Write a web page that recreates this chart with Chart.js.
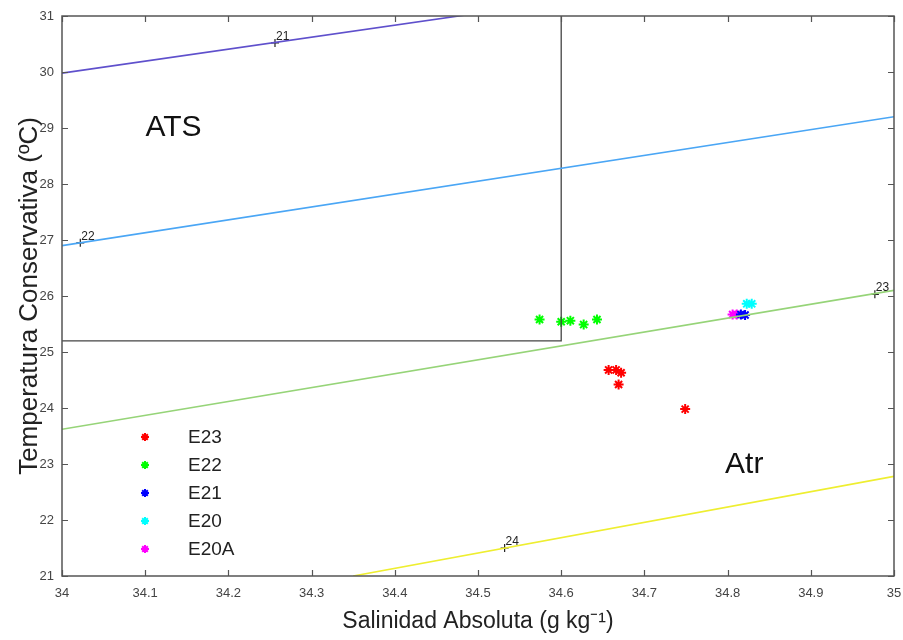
<!DOCTYPE html>
<html>
<head>
<meta charset="utf-8">
<script src="https://cdn.jsdelivr.net/npm/chart.js@4.4.0/dist/chart.umd.min.js"></script>
<style>
    html, body { margin: 0; padding: 0; background: #fff; }
    #wrap { width: 903px; height: 640px; }
</style>
</head>
<body>
<div id="wrap"><canvas id="ts"></canvas></div>
<script>

// ESTACIONES (salinidad absoluta, temperatura conservativa)
const estaciones = ['E23', 'E22', 'E21', 'E20', 'E20A'];

const salE23 = [34.657, 34.666, 34.672, 34.669, 34.749];
const temE23 = [24.68, 24.68, 24.63, 24.42, 23.98];

const salE22 = [34.574, 34.600, 34.611, 34.627, 34.643];
const temE22 = [25.58, 25.54, 25.56, 25.49, 25.58];

const salE21 = [34.816, 34.821];
const temE21 = [25.67, 25.66];

const salE20 = [34.823, 34.829];
const temE20 = [25.86, 25.86];

const salE20A = [34.806, 34.811];
const temE20A = [25.67, 25.67];

// ISOPICNAS
const sigmaLabels = ['21', '22', '23', '24'];
const sigmaSal = [[34.0, 34.5], [34.0, 35.0], [34.0, 35.0], [34.35, 35.0]];
const sigmaTem = [[29.98, 31.05], [26.90, 29.20], [23.62, 26.10], [21.0, 22.78]];
const sigmaMarkSal = [34.256, 34.022, 34.977, 34.532];
const sigmaMarkTem = [30.52, 26.95, 26.03, 21.50];

// CAJA ATS
const cajaSal = [34.0, 34.6, 34.6];
const cajaTem = [25.2, 25.2, 31.0];

// EJES
const xTicks = [34, 34.1, 34.2, 34.3, 34.4, 34.5, 34.6, 34.7, 34.8, 34.9, 35];
const yTicks = [21, 22, 23, 24, 25, 26, 27, 28, 29, 30, 31];

const coloresEst = ['#ff0000', '#00ff00', '#0000ff', '#00ffff', '#ff00ff'];
const coloresSigma = ['#5f50cc', '#4aa6f5', '#96d478', '#eeee30'];

function puntos(xs, ys) {
    return xs.map((x, i) => ({ x: x, y: ys[i] }));
}

const salidas = [salE23, salE22, salE21, salE20, salE20A];
const temps = [temE23, temE22, temE21, temE20, temE20A];

const datasets = [];

// lineas de densidad
sigmaLabels.forEach((s, i) => {
    datasets.push({
        type: 'line',
        label: 'sigma' + s,
        data: puntos(sigmaSal[i], sigmaTem[i]),
        borderColor: coloresSigma[i],
        borderWidth: 1.6,
        pointRadius: 0,
        showLine: true,
        fill: false,
        esLeyenda: false
    });
});

// caja ATS
datasets.push({
    type: 'line',
    label: 'ATS',
    data: puntos(cajaSal, cajaTem),
    borderColor: '#444444',
    borderWidth: 1.3,
    pointRadius: 0,
    showLine: true,
    fill: false,
    esLeyenda: false
});

// marcas de isopicnas
datasets.push({
    label: 'marcas',
    data: puntos(sigmaMarkSal, sigmaMarkTem),
    pointStyle: 'cross',
    pointRadius: 4,
    borderColor: '#222',
    borderWidth: 1.2,
    esLeyenda: false
});

// estaciones
estaciones.forEach((e, i) => {
    datasets.push({
        label: e,
        data: puntos(salidas[i], temps[i]),
        pointStyle: 'star',
        pointRadius: 5,
        borderColor: coloresEst[i],
        backgroundColor: coloresEst[i],
        borderWidth: 2,
        esLeyenda: true
    });
});

const cajaPlugin = {
    id: 'cajaPlugin',
    afterDatasetsDraw(chart) {
        const ctx = chart.ctx;
        const a = chart.chartArea;
        const xs = chart.scales.x;
        const ys = chart.scales.y;

        ctx.save();
        ctx.strokeStyle = '#555';
        ctx.lineWidth = 1.2;

        // ticks hacia adentro
        ctx.beginPath();
        xTicks.forEach(t => {
            const px = Math.round(xs.getPixelForValue(t)) + 0.5;
            ctx.moveTo(px, a.bottom);
            ctx.lineTo(px, a.bottom - 6);
            ctx.moveTo(px, a.top);
            ctx.lineTo(px, a.top + 6);
        });
        yTicks.forEach(t => {
            const py = Math.round(ys.getPixelForValue(t)) + 0.5;
            ctx.moveTo(a.left, py);
            ctx.lineTo(a.left + 6, py);
            ctx.moveTo(a.right, py);
            ctx.lineTo(a.right - 6, py);
        });
        ctx.stroke();

        ctx.lineWidth = 1.5;
        ctx.strokeRect(a.left, a.top, a.right - a.left, a.bottom - a.top);

        // numeros de isopicnas
        ctx.fillStyle = '#222';
        ctx.font = '12px "Liberation Sans", Arial';
        ctx.textAlign = 'left';
        ctx.textBaseline = 'alphabetic';
        sigmaLabels.forEach((s, i) => {
            const px = xs.getPixelForValue(sigmaMarkSal[i]);
            const py = ys.getPixelForValue(sigmaMarkTem[i]);
            ctx.fillText(s, px + 1, py - 3);
        });

        // regiones
        ctx.font = '30px "Liberation Sans", Arial';
        ctx.fillStyle = '#111';
        ctx.textAlign = 'center';
        ctx.textBaseline = 'middle';
        ctx.fillText('ATS', xs.getPixelForValue(34.134), ys.getPixelForValue(29.0));
        ctx.fillText('Atr', xs.getPixelForValue(34.82), ys.getPixelForValue(22.98));

        // leyenda
        ctx.font = '19px "Liberation Sans", Arial';
        ctx.textAlign = 'left';
        let fila = 0;
        chart.data.datasets.forEach(d => {
            if (!d.esLeyenda) return;
            const y = 437 + fila * 28;
            ctx.strokeStyle = d.borderColor;
            ctx.fillStyle = d.borderColor;
            ctx.lineWidth = 2;
            Chart.helpers.drawPoint(ctx, { pointStyle: 'star', radius: 4, borderWidth: 2 }, 145, y);
            ctx.fillStyle = '#222';
            ctx.fillText(d.label, 188, y + 1);
            fila++;
        });

        ctx.restore();
    }
};

new Chart(

    document.getElementById('ts'),

    {
        type: 'scatter',

        data: { datasets: datasets },

        options: {

            responsive: true,
            maintainAspectRatio: false,
            animation: false,

            layout: {
                padding: { top: 16, right: 9, left: 0, bottom: 0 }
            },

            plugins: {
                legend: { display: false },
                tooltip: { enabled: false }
            },

            scales: {

                x: {
                    type: 'linear',
                    min: 34,
                    max: 35,
                    afterFit: s => {
                        s.height = 64;
                        s.paddingLeft = 0;
                        s.paddingRight = 0;
                    },
                    afterBuildTicks: s => {
                        s.ticks = xTicks.map(v => ({ value: v }));
                    },
                    grid: { display: false, drawTicks: false },
                    border: { display: false },
                    ticks: {
                        padding: 10,
                        color: '#444',
                        font: { family: '"Liberation Sans", Arial', size: 13 },
                        maxRotation: 0,
                        callback: v => String(Math.round(v * 10) / 10)
                    },
                    title: {
                        display: true,
                        text: 'Salinidad Absoluta (g kg\u207B\u00B9)',
                        color: '#222',
                        font: { family: '"Liberation Sans", Arial', size: 23 },
                        padding: { top: 0, bottom: 5 }
                    }
                },

                y: {
                    type: 'linear',
                    min: 21,
                    max: 31,
                    afterFit: s => {
                        s.width = 62;
                        s.paddingTop = 0;
                        s.paddingBottom = 0;
                    },
                    afterBuildTicks: s => {
                        s.ticks = yTicks.map(v => ({ value: v }));
                    },
                    grid: { display: false, drawTicks: false },
                    border: { display: false },
                    ticks: {
                        padding: 8,
                        color: '#444',
                        font: { family: '"Liberation Sans", Arial', size: 13 }
                    },
                    title: {
                        display: true,
                        text: 'Temperatura Conservativa (\u00BAC)',
                        color: '#222',
                        font: { family: '"Liberation Sans", Arial', size: 26 },
                        padding: { top: 14, bottom: 0 }
                    }
                }
            }
        },

        plugins: [cajaPlugin]
    }
);
</script>
</body>
</html>
